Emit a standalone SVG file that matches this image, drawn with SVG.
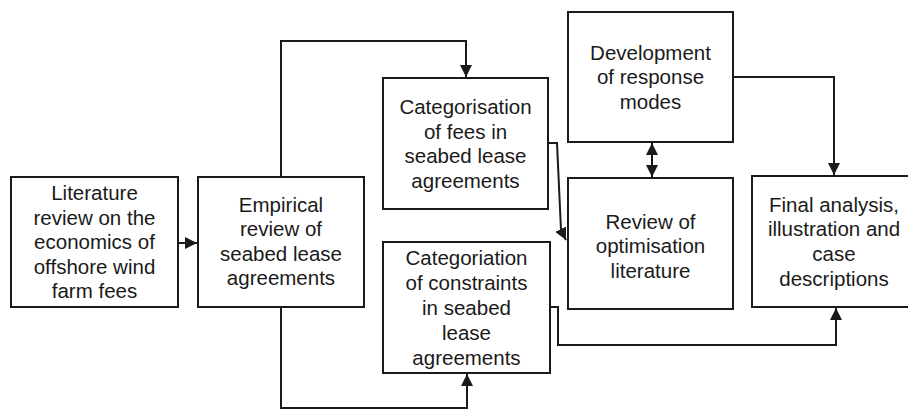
<svg xmlns="http://www.w3.org/2000/svg" width="908" height="409" viewBox="0 0 908 409">
<defs>
<style>
.box{fill:#fff;stroke:#1a1a1a;stroke-width:2}
.lbl{font-family:"Liberation Sans",Arial,sans-serif;font-size:20.5px;fill:#1a1a1a;text-anchor:middle}
.con{fill:none;stroke:#1a1a1a;stroke-width:2}
</style>
<marker id="ah" viewBox="0 0 10 10" refX="10" refY="5" markerWidth="6" markerHeight="6" orient="auto-start-reverse" markerUnits="strokeWidth">
<path d="M0,0 L10,5 L0,10 Z" fill="#1a1a1a"/>
</marker>
</defs>
<rect width="908" height="409" fill="#fff"/>
<g id="connectors">
<path class="con" d="M178,243 H197" marker-end="url(#ah)"/>
<path class="con" d="M281,177 V41 H466 V77" marker-end="url(#ah)"/>
<path class="con" d="M548,143 H557 L561,230 L566,240" marker-end="url(#ah)"/>
<path class="con" d="M281,307 V408 H467 V374" marker-end="url(#ah)"/>
<path class="con" d="M550,307 H558 V345 H836 V308" marker-end="url(#ah)"/>
<path class="con" d="M652,143 V177" marker-start="url(#ah)" marker-end="url(#ah)"/>
<path class="con" d="M733,77 H834 V175" marker-end="url(#ah)"/>
</g>
<g id="n1">
<rect class="box" x="11" y="177" width="167" height="130"/>
<text class="lbl"><tspan x="94.5" y="200">Literature</tspan><tspan x="94.5" y="224.5">review on the</tspan><tspan x="94.5" y="249">economics of</tspan><tspan x="94.5" y="273.5">offshore wind</tspan><tspan x="94.5" y="298">farm fees</tspan></text>
</g>
<g id="n2">
<rect class="box" x="198" y="177" width="166" height="130"/>
<text class="lbl"><tspan x="281" y="211.5">Empirical</tspan><tspan x="281" y="236">review of</tspan><tspan x="281" y="260.5">seabed lease</tspan><tspan x="281" y="285">agreements</tspan></text>
</g>
<g id="n3">
<rect class="box" x="383" y="78" width="165" height="131"/>
<text class="lbl"><tspan x="465.5" y="114">Categorisation</tspan><tspan x="465.5" y="138.5">of fees in</tspan><tspan x="465.5" y="163">seabed lease</tspan><tspan x="465.5" y="187.5">agreements</tspan></text>
</g>
<g id="n4">
<rect class="box" x="383" y="242" width="167" height="131"/>
<text class="lbl"><tspan x="466.5" y="264.5">Categoriation</tspan><tspan x="466.5" y="289.5">of constraints</tspan><tspan x="466.5" y="314.5">in seabed</tspan><tspan x="466.5" y="339.5">lease</tspan><tspan x="466.5" y="365">agreements</tspan></text>
</g>
<g id="n5">
<rect class="box" x="568" y="12" width="165" height="130"/>
<text class="lbl"><tspan x="650.5" y="59.5">Development</tspan><tspan x="650.5" y="84">of response</tspan><tspan x="650.5" y="109">modes</tspan></text>
</g>
<g id="n6">
<rect class="box" x="568" y="178" width="165" height="131"/>
<text class="lbl"><tspan x="650.5" y="228.5">Review of</tspan><tspan x="650.5" y="253">optimisation</tspan><tspan x="650.5" y="277.5">literature</tspan></text>
</g>
<g id="n7">
<rect class="box" x="752" y="176" width="165" height="131"/>
<text class="lbl"><tspan x="834" y="211.5">Final analysis,</tspan><tspan x="834" y="236">illustration and</tspan><tspan x="834" y="260.5">case</tspan><tspan x="834" y="285.5">descriptions</tspan></text>
</g>
</svg>
